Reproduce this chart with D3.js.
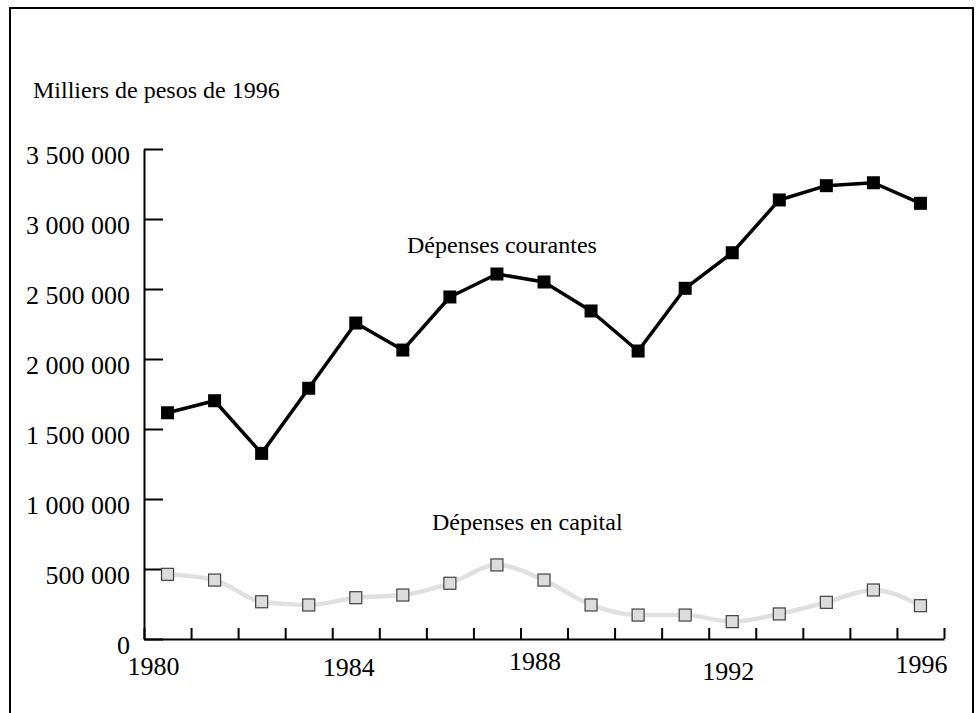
<!DOCTYPE html>
<html>
<head>
<meta charset="utf-8">
<script src="https://cdn.jsdelivr.net/npm/d3@7"></script>
<style>
  body { margin: 0; background: #fff; }
  svg text { font-family: "Liberation Serif", "Times New Roman", serif; fill: #000; }
</style>
</head>
<body>
<svg id="chart" width="978" height="713"></svg>
<script>
var years = [1980, 1981, 1982, 1983, 1984, 1985, 1986, 1987, 1988,
    1989, 1990, 1991, 1992, 1993, 1994, 1995, 1996]
var courantes = [1616000, 1702000, 1326000, 1791000, 2257000, 2064000, 2443000,
    2607000, 2550000, 2343000, 2057000, 2505000, 2759000, 3136000, 3238000,
    3259000, 3112000]
var capital = [462000, 421000, 266000, 243000, 295000, 314000, 398000, 529000,
    421000, 243000, 171000, 171000, 124000, 179000, 262000, 350000, 238000]
var yTicks = [0, 500000, 1000000, 1500000, 2000000, 2500000, 3000000, 3500000]
var xLabels = [1980, 1984, 1988, 1992, 1996]

// small hand nudges so the year labels sit where the original puts them
var xLabelDx = [-14, -7, -9, -4, 1]
var xLabelDy = [0, 1, -5, 5, -2]

var svg = d3.select('#chart')

// frame
svg.append('rect')
    .attr('x', 10)
    .attr('y', 8)
    .attr('width', 963)
    .attr('height', 720)
    .style('fill', 'none')
    .style('stroke', '#000')
    .style('stroke-width', 2)

var x = d3.scaleBand()
    .domain(years)
    .range([144, 944])
    .padding(0)

var xt = d3.scaleLinear()
    .domain([years[0], years[years.length - 1] + 1])
    .range(x.range())

var y = d3.scaleLinear()
    .domain([0, 3500000])
    .range([639, 149])

var fr = d3.formatLocale({ decimal: ",", thousands: " ", grouping: [3], currency: ["", ""] })
var fmt = fr.format(",")

// y axis
var yAxis = d3.axisLeft(y)
    .tickValues(yTicks)
    .tickSizeInner(-19)
    .tickSizeOuter(0)
    .tickPadding(14)
    .tickFormat(fmt)

var gy = svg.append('g')
    .attr('transform', 'translate(144,0)')
    .call(yAxis)
gy.select('.domain').style('stroke', '#000').style('stroke-width', 2)
gy.selectAll('.tick line').style('stroke', '#000').style('stroke-width', 2)
gy.selectAll('.tick text')
    .attr('dy', 14)
    .style('font-size', '26px')
    .style('font-family', '"Liberation Serif", "Times New Roman", serif')

// x axis (ticks on year boundaries)
var xAxis = d3.axisBottom(xt)
    .tickValues(d3.range(years[0], years[years.length - 1] + 2))
    .tickSizeInner(-11)
    .tickSizeOuter(0)
    .tickFormat('')

var gx = svg.append('g')
    .attr('transform', 'translate(0,639)')
    .call(xAxis)
gx.select('.domain').style('stroke', '#000').style('stroke-width', 2)
gx.selectAll('.tick line').style('stroke', '#000').style('stroke-width', 2)

svg.selectAll('.xlab')
    .data(xLabels)
    .enter()
    .append('text')
    .attr('class', 'xlab')
    .attr('x', function (d, i) { return x(d) + x.bandwidth() / 2 + xLabelDx[i] })
    .attr('y', function (d, i) { return 675 + xLabelDy[i] })
    .attr('text-anchor', 'middle')
    .style('font-size', '26px')
    .text(function (d) { return d })

var cx = function (d, i) { return x(years[i]) + x.bandwidth() / 2 }

// capital line (light, smoothed)
var lineCap = d3.line()
    .x(cx)
    .y(function (d) { return y(d) })
    .curve(d3.curveMonotoneX)

svg.append('path')
    .datum(capital)
    .attr('d', lineCap)
    .style('fill', 'none')
    .style('stroke', '#e0e0e0')
    .style('stroke-width', 4.5)

svg.selectAll('.capPt')
    .data(capital)
    .enter()
    .append('rect')
    .attr('class', 'capPt')
    .attr('x', function (d, i) { return cx(d, i) - 6 })
    .attr('y', function (d) { return y(d) - 6 })
    .attr('width', 12)
    .attr('height', 12)
    .style('fill', '#dcdcdc')
    .style('stroke', '#404040')
    .style('stroke-width', 1.2)

// current expenditures line
var lineCur = d3.line()
    .x(cx)
    .y(function (d) { return y(d) })

svg.append('path')
    .datum(courantes)
    .attr('d', lineCur)
    .style('fill', 'none')
    .style('stroke', '#000')
    .style('stroke-width', 3.5)
    .style('stroke-linejoin', 'round')

svg.selectAll('.curPt')
    .data(courantes)
    .enter()
    .append('rect')
    .attr('class', 'curPt')
    .attr('x', function (d, i) { return cx(d, i) - 6.5 })
    .attr('y', function (d) { return y(d) - 6.5 })
    .attr('width', 13)
    .attr('height', 13)
    .style('fill', '#000')

// texts
svg.append('text')
    .attr('x', 33)
    .attr('y', 98)
    .style('font-size', '24px')
    .text('Milliers de pesos de 1996')

svg.append('text')
    .attr('x', 407)
    .attr('y', 253)
    .style('font-size', '24px')
    .text('Dépenses courantes')

svg.append('text')
    .attr('x', 432)
    .attr('y', 530)
    .style('font-size', '24px')
    .text('Dépenses en capital')
</script>
</body>
</html>
